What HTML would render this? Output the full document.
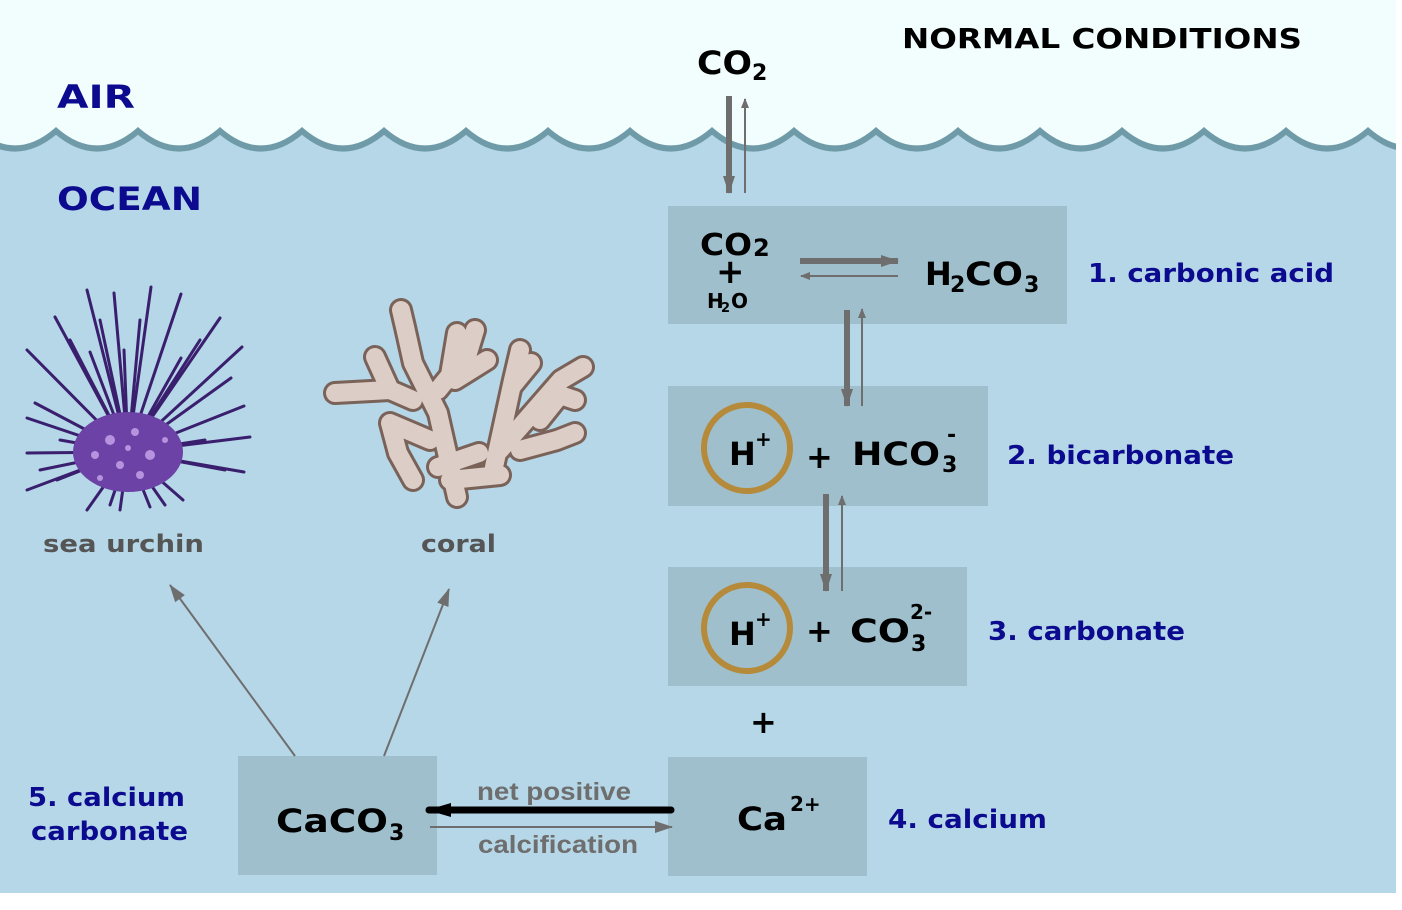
<!DOCTYPE html>
<html><head><meta charset="utf-8"><style>
html,body{margin:0;padding:0;background:#fff;}
svg{display:block;}
text{font-family:"DejaVu Sans","Liberation Sans",sans-serif;font-weight:bold;}
.b{fill:#0c0a8f;}
.k{fill:#000;}
.g{fill:#6e6e6e;font-family:"Liberation Sans",sans-serif;}
</style></head><body>
<svg width="1402" height="910" viewBox="0 0 1402 910" xmlns="http://www.w3.org/2000/svg">
<defs>
<marker id="ah" markerWidth="10" markerHeight="8" refX="9" refY="4" orient="auto" markerUnits="userSpaceOnUse"><path d="M0,0 L10,4 L0,8 z" fill="#6e6e6e"/></marker>
<marker id="ahB" markerWidth="18" markerHeight="12" refX="17" refY="6" orient="auto" markerUnits="userSpaceOnUse"><path d="M0,0 L18,6 L0,12 z" fill="#6e6e6e"/></marker>
<marker id="ahK" markerWidth="24" markerHeight="14" refX="22" refY="7" orient="auto" markerUnits="userSpaceOnUse"><path d="M0,0 L24,7 L0,14 z" fill="#000"/></marker>
</defs>
<rect x="0" y="0" width="1396" height="893" fill="#f2fdfd"/>
<path d="M-26,131 Q15,166 56,131 Q97,166 138,131 Q179,166 220,131 Q261,166 302,131 Q343,166 384,131 Q425,166 466,131 Q507,166 548,131 Q589,166 630,131 Q671,166 712,131 Q753,166 794,131 Q835,166 876,131 Q917,166 958,131 Q999,166 1040,131 Q1081,166 1122,131 Q1163,166 1204,131 Q1245,166 1286,131 Q1327,166 1368,131 Q1409,166 1450,131 L1396,131 L1396,893 L0,893 L0,131 Z" fill="#b5d7e7"/>
<rect x="0" y="893" width="1402" height="17" fill="#fff"/>
<path d="M-26,131 Q15,166 56,131 Q97,166 138,131 Q179,166 220,131 Q261,166 302,131 Q343,166 384,131 Q425,166 466,131 Q507,166 548,131 Q589,166 630,131 Q671,166 712,131 Q753,166 794,131 Q835,166 876,131 Q917,166 958,131 Q999,166 1040,131 Q1081,166 1122,131 Q1163,166 1204,131 Q1245,166 1286,131 Q1327,166 1368,131 Q1409,166 1450,131" fill="none" stroke="#6f9aa8" stroke-width="6"/>
<rect x="1396" y="0" width="6" height="910" fill="#fff"/>

<g fill="#9fbfcc">
<rect x="668" y="206" width="399" height="118"/>
<rect x="668" y="386" width="320" height="120"/>
<rect x="668" y="567" width="299" height="119"/>
<rect x="668" y="757" width="199" height="119"/>
<rect x="238" y="756" width="199" height="119"/>
</g>

<text x="902" y="48" font-size="28" class="k" textLength="400" lengthAdjust="spacingAndGlyphs">NORMAL CONDITIONS</text>
<text x="697" y="74" font-size="32" class="k" textLength="55" lengthAdjust="spacingAndGlyphs">CO</text>
<text x="752" y="80" font-size="22" class="k">2</text>
<text x="57" y="108" font-size="32" class="b" textLength="78" lengthAdjust="spacingAndGlyphs">AIR</text>
<text x="57" y="210" font-size="32" class="b" textLength="145" lengthAdjust="spacingAndGlyphs">OCEAN</text>

<text x="700" y="255" font-size="30" class="k" textLength="52" lengthAdjust="spacingAndGlyphs">CO</text>
<text x="753" y="256" font-size="24" class="k">2</text>
<text x="716" y="283" font-size="34" class="k">+</text>
<text x="707" y="308" font-size="20" class="k">H</text>
<text x="721" y="312" font-size="13" class="k">2</text>
<text x="731" y="308" font-size="20" class="k">O</text>
<text x="925" y="285" font-size="32" class="k">H</text>
<text x="950" y="292" font-size="22" class="k">2</text>
<text x="965" y="285" font-size="32" class="k" textLength="58" lengthAdjust="spacingAndGlyphs">CO</text>
<text x="1024" y="292" font-size="22" class="k">3</text>
<text x="1088" y="282" font-size="26" class="b" textLength="246" lengthAdjust="spacingAndGlyphs">1. carbonic acid</text>

<circle cx="747" cy="448" r="43" fill="none" stroke="#b58a3a" stroke-width="6"/>
<text x="729" y="465" font-size="32" class="k">H</text>
<text x="755" y="446" font-size="20" class="k">+</text>
<text x="806" y="468" font-size="32" class="k">+</text>
<text x="852" y="465" font-size="32" class="k" textLength="88" lengthAdjust="spacingAndGlyphs">HCO</text>
<text x="942" y="472" font-size="22" class="k">3</text>
<text x="947" y="442" font-size="22" class="k">-</text>
<text x="1007" y="464" font-size="26" class="b" textLength="227" lengthAdjust="spacingAndGlyphs">2. bicarbonate</text>

<circle cx="747" cy="628" r="43" fill="none" stroke="#b58a3a" stroke-width="6"/>
<text x="729" y="645" font-size="32" class="k">H</text>
<text x="755" y="626" font-size="20" class="k">+</text>
<text x="806" y="642" font-size="32" class="k">+</text>
<text x="850" y="642" font-size="32" class="k" textLength="60" lengthAdjust="spacingAndGlyphs">CO</text>
<text x="911" y="651" font-size="22" class="k">3</text>
<text x="910" y="619" font-size="20" class="k">2-</text>
<text x="988" y="640" font-size="26" class="b" textLength="197" lengthAdjust="spacingAndGlyphs">3. carbonate</text>

<text x="750" y="733" font-size="32" class="k">+</text>

<text x="737" y="830" font-size="32" class="k" textLength="50" lengthAdjust="spacingAndGlyphs">Ca</text>
<text x="790" y="811" font-size="20" class="k">2+</text>
<text x="888" y="828" font-size="26" class="b" textLength="159" lengthAdjust="spacingAndGlyphs">4. calcium</text>

<text x="276" y="832" font-size="32" class="k" textLength="112" lengthAdjust="spacingAndGlyphs">CaCO</text>
<text x="389" y="840" font-size="22" class="k">3</text>
<text x="28" y="806" font-size="26" class="b" textLength="157" lengthAdjust="spacingAndGlyphs">5. calcium</text>
<text x="31" y="840" font-size="26" class="b" textLength="157" lengthAdjust="spacingAndGlyphs">carbonate</text>

<text x="477" y="800" font-size="25" class="g" textLength="154" lengthAdjust="spacingAndGlyphs">net positive</text>
<text x="478" y="853" font-size="25" class="g" textLength="160" lengthAdjust="spacingAndGlyphs">calcification</text>

<text x="43" y="552" font-size="24" fill="#555" textLength="161" lengthAdjust="spacingAndGlyphs">sea urchin</text>
<text x="421" y="552" font-size="24" fill="#555" textLength="75" lengthAdjust="spacingAndGlyphs">coral</text>

<g stroke="#6e6e6e" fill="none">
<line x1="729" y1="96" x2="729" y2="193" stroke-width="6" marker-end="url(#ahB)"/>
<line x1="745" y1="193" x2="745" y2="99" stroke-width="2" marker-end="url(#ah)"/>
<line x1="800" y1="261" x2="898" y2="261" stroke-width="6" marker-end="url(#ahB)"/>
<line x1="898" y1="276" x2="801" y2="276" stroke-width="2" marker-end="url(#ah)"/>
<line x1="847" y1="310" x2="847" y2="406" stroke-width="6" marker-end="url(#ahB)"/>
<line x1="862" y1="406" x2="862" y2="309" stroke-width="2" marker-end="url(#ah)"/>
<line x1="826" y1="494" x2="826" y2="591" stroke-width="6" marker-end="url(#ahB)"/>
<line x1="842" y1="591" x2="842" y2="496" stroke-width="2" marker-end="url(#ah)"/>
<line x1="430" y1="827" x2="672" y2="827" stroke-width="2" marker-end="url(#ahB)"/>
<line x1="295" y1="756" x2="170" y2="585" stroke-width="2" marker-end="url(#ahB)"/>
<line x1="384" y1="756" x2="449" y2="589" stroke-width="2" marker-end="url(#ahB)"/>
</g>
<line x1="671" y1="810" x2="429" y2="810" stroke="#000" stroke-width="7" stroke-linecap="round" marker-end="url(#ahK)"/>

<g stroke="#3a1f6e" stroke-width="3" stroke-linecap="round">
<line x1="128" y1="452" x2="87" y2="290"/><line x1="128" y1="452" x2="114" y2="293"/>
<line x1="128" y1="452" x2="151" y2="287"/><line x1="128" y1="452" x2="181" y2="294"/>
<line x1="128" y1="452" x2="220" y2="318"/><line x1="128" y1="452" x2="242" y2="347"/>
<line x1="128" y1="452" x2="244" y2="406"/><line x1="128" y1="452" x2="250" y2="437"/>
<line x1="128" y1="452" x2="244" y2="472"/><line x1="128" y1="452" x2="183" y2="500"/>
<line x1="128" y1="452" x2="120" y2="510"/><line x1="128" y1="452" x2="87" y2="510"/>
<line x1="128" y1="452" x2="27" y2="490"/><line x1="128" y1="452" x2="27" y2="453"/>
<line x1="128" y1="452" x2="27" y2="418"/><line x1="128" y1="452" x2="27" y2="350"/>
<line x1="128" y1="452" x2="55" y2="317"/><line x1="128" y1="452" x2="90" y2="352"/>
<line x1="128" y1="452" x2="124" y2="350"/><line x1="128" y1="452" x2="181" y2="358"/>
<line x1="128" y1="452" x2="231" y2="378"/><line x1="128" y1="452" x2="35" y2="403"/>
<line x1="128" y1="452" x2="57" y2="480"/><line x1="128" y1="452" x2="150" y2="507"/>
<line x1="128" y1="452" x2="205" y2="440"/><line x1="128" y1="452" x2="60" y2="440"/>
<line x1="128" y1="452" x2="140" y2="320"/><line x1="128" y1="452" x2="100" y2="320"/>
<line x1="128" y1="452" x2="200" y2="340"/><line x1="128" y1="452" x2="70" y2="340"/>
<line x1="128" y1="452" x2="225" y2="470"/><line x1="128" y1="452" x2="40" y2="470"/>
<line x1="128" y1="452" x2="110" y2="505"/><line x1="128" y1="452" x2="165" y2="505"/>
</g>
<ellipse cx="128" cy="452" rx="55" ry="40" fill="#6d42a6"/>
<g fill="#c8a8ec" opacity="0.8">
<circle cx="110" cy="440" r="5"/><circle cx="135" cy="432" r="4"/><circle cx="150" cy="455" r="5"/>
<circle cx="120" cy="465" r="4"/><circle cx="95" cy="455" r="4"/><circle cx="140" cy="475" r="4"/>
<circle cx="165" cy="440" r="3"/><circle cx="100" cy="478" r="3"/><circle cx="128" cy="448" r="3"/>
</g>

<g fill="none" stroke-linecap="round" stroke-linejoin="round">
<g stroke="#7a6258" stroke-width="24">
<polyline points="457,497 438,413 413,363 405,327 401,310"/>
<polyline points="438,390 468,353 475,330"/><polyline points="450,375 457,333"/>
<polyline points="455,380 487,360"/>
<polyline points="413,400 390,390 375,357"/><polyline points="390,390 335,393"/>
<polyline points="494,467 513,380 520,350"/><polyline points="513,385 531,363"/>
<polyline points="500,450 561,380 583,367"/><polyline points="520,450 557,440 575,433"/>
<polyline points="430,440 390,423 398,453 413,480"/>
<polyline points="438,467 479,453"/><polyline points="450,480 500,475"/>
<polyline points="540,420 560,395 575,400"/>
</g>
<g stroke="#dccdc6" stroke-width="18">
<polyline points="457,497 438,413 413,363 405,327 401,310"/>
<polyline points="438,390 468,353 475,330"/><polyline points="450,375 457,333"/>
<polyline points="455,380 487,360"/>
<polyline points="413,400 390,390 375,357"/><polyline points="390,390 335,393"/>
<polyline points="494,467 513,380 520,350"/><polyline points="513,385 531,363"/>
<polyline points="500,450 561,380 583,367"/><polyline points="520,450 557,440 575,433"/>
<polyline points="430,440 390,423 398,453 413,480"/>
<polyline points="438,467 479,453"/><polyline points="450,480 500,475"/>
<polyline points="540,420 560,395 575,400"/>
</g>
</g>
</svg>
</body></html>
